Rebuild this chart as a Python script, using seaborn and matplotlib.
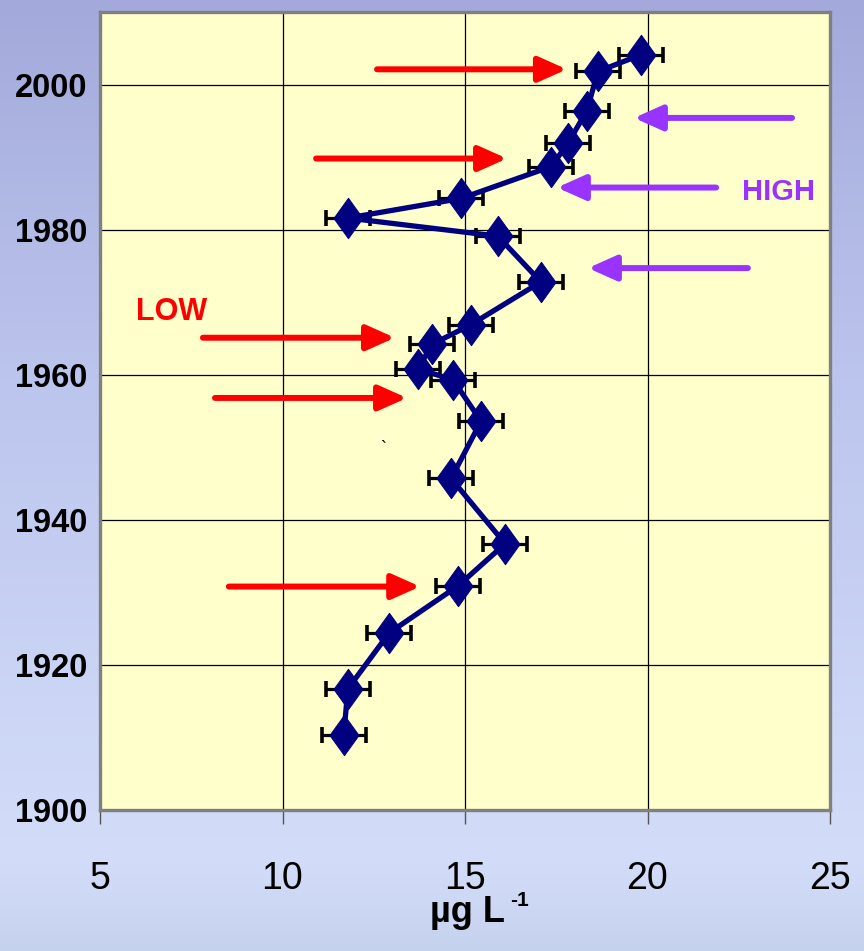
import numpy as np
import pandas as pd
import matplotlib
matplotlib.use("Agg")
import matplotlib.pyplot as plt
from matplotlib.path import Path
import seaborn as sns

# ---- data ----
years = [2004.1, 2001.8, 1996.4, 1991.9, 1988.7, 1984.3, 1981.6, 1979.1, 1972.8, 1966.9,
         1964.2, 1960.8, 1959.3, 1953.6, 1945.7, 1936.7, 1930.9, 1924.4, 1916.7, 1910.4]
conc = [19.82, 18.64, 18.34, 17.82, 17.36, 14.89, 11.79, 15.90, 17.08, 15.16,
        14.10, 13.71, 14.67, 15.44, 14.62, 16.10, 14.81, 12.92, 11.79, 11.68]
err = [0.6, 0.6, 0.6, 0.6, 0.6, 0.6, 0.6, 0.6, 0.6, 0.6,
       0.6, 0.6, 0.6, 0.6, 0.6, 0.6, 0.6, 0.6, 0.6, 0.6]

x_ticks = [5, 10, 15, 20, 25]
y_ticks = [1900, 1920, 1940, 1960, 1980, 2000]

# red arrows (pointing right): start x, end x, year
low_start = [12.59, 10.92, 7.82, 8.15, 8.53]
low_end = [17.79, 16.15, 13.08, 13.41, 13.77]
low_year = [2002.1, 1989.8, 1965.1, 1956.8, 1930.8]
# purple arrows (pointing left)
high_start = [23.96, 21.88, 22.75]
high_end = [19.63, 17.52, 18.37]
high_year = [1995.4, 1985.8, 1974.7]

df = pd.DataFrame({"year": years, "conc": conc, "err": err})

sns.set_style("white")
plt.rcParams['font.family'] = ['Liberation Sans', 'DejaVu Sans']
plt.rcParams['text.color'] = 'black'

fig = plt.figure(figsize=(8.64, 9.51), dpi=100)

# gradient background
bg = fig.add_axes([0, 0, 1, 1], zorder=-10)
stops_pos = [0.0, 0.40, 0.90, 0.95, 1.0]
stops_col = np.array([[163, 170, 219], [188, 197, 237], [211, 221, 249], [205, 216, 244], [197, 210, 237]]) / 255.0
t = np.linspace(0, 1, 400)
grad = np.stack([np.interp(t, stops_pos, stops_col[:, i]) for i in range(3)], axis=-1)
bg.imshow(grad[:, None, :], aspect='auto', extent=[0, 1, 0, 1])
bg.set_axis_off()

ax = fig.add_axes([100 / 864, 1 - 810 / 951, 730 / 864, 798 / 951])
ax.set_facecolor('#FFFFCC')

# error bars
ax.errorbar(df["conc"], df["year"], xerr=df["err"], fmt='none', ecolor='black',
            elinewidth=2.3, capsize=6, capthick=2.6, zorder=2)

diamond = Path([(0, 1), (0.72, 0), (0, -1), (-0.72, 0), (0, 1)],
               [Path.MOVETO, Path.LINETO, Path.LINETO, Path.LINETO, Path.CLOSEPOLY])
sns.lineplot(data=df, x="conc", y="year", sort=False, estimator=None, ax=ax,
             color='#000080', linewidth=3.8, marker=diamond, markersize=29,
             markerfacecolor='#000080', markeredgecolor='#000080', zorder=3)

# arrows
astyle = '-|>,head_length=0.85,head_width=0.38'
for xs, xe, y in zip(low_start, low_end, low_year):
    ax.annotate('', xy=(xe, y), xytext=(xs, y),
                arrowprops=dict(arrowstyle=astyle, color='#FF0000', lw=4.3,
                                mutation_scale=20, shrinkA=0, shrinkB=0), zorder=4)
for xs, xe, y in zip(high_start, high_end, high_year):
    ax.annotate('', xy=(xe, y), xytext=(xs, y),
                arrowprops=dict(arrowstyle=astyle, color='#9933FF', lw=4.3,
                                mutation_scale=20, shrinkA=0, shrinkB=0), zorder=4)

ax.text(6.95, 1968.6, 'LOW', color='#FF0000', fontsize=22, fontweight='bold',
        ha='center', va='center')
ax.text(23.6, 1985.2, 'HIGH', color='#9933FF', fontsize=21, fontweight='bold',
        ha='center', va='center')
ax.text(12.75, 1949.7, '`', color='black', fontsize=13, ha='center', va='center')

ax.set_xlim(5, 25)
ax.set_ylim(1900, 2010)
ax.set_xticks(x_ticks)
ax.set_yticks(y_ticks)
ax.set_xticklabels([str(v) for v in x_ticks], fontsize=27, color='black')
ax.set_yticklabels([str(v) for v in y_ticks], fontsize=23.5, fontweight='bold', color='black')
ax.grid(True, color='black', linewidth=0.9)
ax.set_axisbelow(True)
ax.tick_params(axis='x', direction='out', length=10, width=1, color='#555555', pad=27,
               bottom=True)
ax.tick_params(axis='y', length=0, pad=9)
for s in ax.spines.values():
    s.set_color('#808080')
    s.set_linewidth(2.4)
    s.set_visible(True)

ax.set_xlabel('')
ax.set_ylabel('')

# x-axis unit label: main text plus small superscript
fig.text(505 / 864, 1 - 922 / 951, 'µg L', fontsize=26, fontweight='bold',
         ha='right', va='baseline', color='black')
fig.text(510 / 864, 1 - 906 / 951, '-1', fontsize=15, fontweight='bold',
         ha='left', va='baseline', color='black')

fig.savefig('out.png', dpi=100)
